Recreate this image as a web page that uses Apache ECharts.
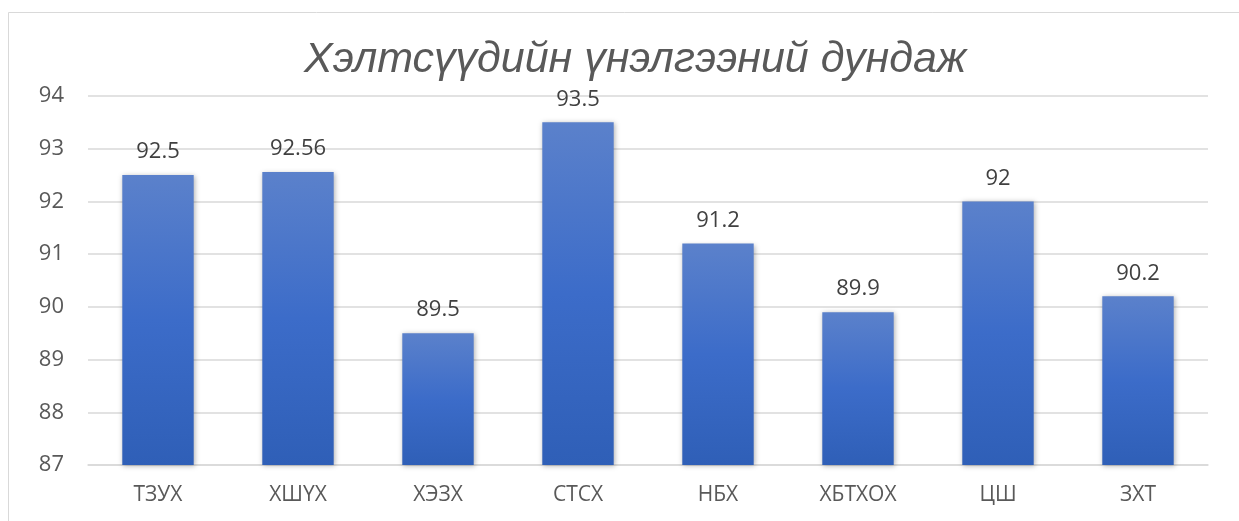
<!DOCTYPE html>
<html>
<head>
<meta charset="utf-8">
<script src="https://cdn.jsdelivr.net/npm/echarts@6/dist/echarts.min.js"></script>
<style>
  html, body { margin: 0; padding: 0; background: #fff; }
  #chart { width: 1239px; height: 521px; }
</style>
</head>
<body>
<div id="chart"></div>
<script>
// data
var titleText = "Хэлтсүүдийн үнэлгээний дундаж";
var categories = ["ТЗУХ", "ХШҮХ", "ХЭЗХ", "СТСХ", "НБХ", "ХБТХОХ", "ЦШ", "ЗХТ"];
var scores = [92.5, 92.56, 89.5, 93.5, 91.2, 89.9, 92, 90.2];
var yMin = 87, yMax = 94, yStep = 1;

var chart = echarts.init(document.getElementById("chart"));

var option = {
    backgroundColor: "#fff",
    animation: false,
    graphic: [
        {
            // outer frame of the chart area, cut off at right and bottom
            type: "rect",
            shape: { x: 8.5, y: 12.5, width: 1400, height: 700 },
            style: { fill: "none", stroke: "#d9d9d9", lineWidth: 1 },
            silent: true
        }
    ],
    title: {
        text: titleText,
        left: 299,
        top: 34,
        textStyle: {
            fontFamily: "Liberation Sans",
            fontStyle: "italic",
            fontWeight: "normal",
            fontSize: 43,
            color: "#595959"
        }
    },
    grid: { left: 88, right: 31, top: 96, bottom: 56 },
    xAxis: {
        type: "category",
        data: categories,
        axisLine: { lineStyle: { color: "#d9d9d9", width: 1.5 } },
        axisTick: { show: false },
        axisLabel: {
            color: "#595959",
            fontFamily: "Open Sans",
            fontSize: 21,
            margin: 20
        }
    },
    yAxis: {
        type: "value",
        min: yMin,
        max: yMax,
        interval: yStep,
        axisLine: { show: false },
        axisTick: { show: false },
        splitLine: { lineStyle: { color: "#d9d9d9", width: 1.5 } },
        axisLabel: {
            color: "#595959",
            fontFamily: "Open Sans",
            fontSize: 22,
            margin: 24
        }
    },
    series: [
        {
            type: "bar",
            data: scores,
            barWidth: "51%",
            itemStyle: {
                color: new echarts.graphic.LinearGradient(0, 0, 0, 1, [
                    { offset: 0, color: "#5b81cb" },
                    { offset: 0.5, color: "#3c6cc9" },
                    { offset: 1, color: "#2f5fb7" }
                ]),
                shadowColor: "rgba(0,0,0,0.3)",
                shadowBlur: 5,
                shadowOffsetX: 1,
                shadowOffsetY: 1
            },
            label: {
                show: true,
                position: "top",
                distance: 12,
                color: "#404040",
                fontFamily: "Open Sans",
                fontSize: 22
            }
        }
    ]
};

chart.setOption(option);
</script>
</body>
</html>
